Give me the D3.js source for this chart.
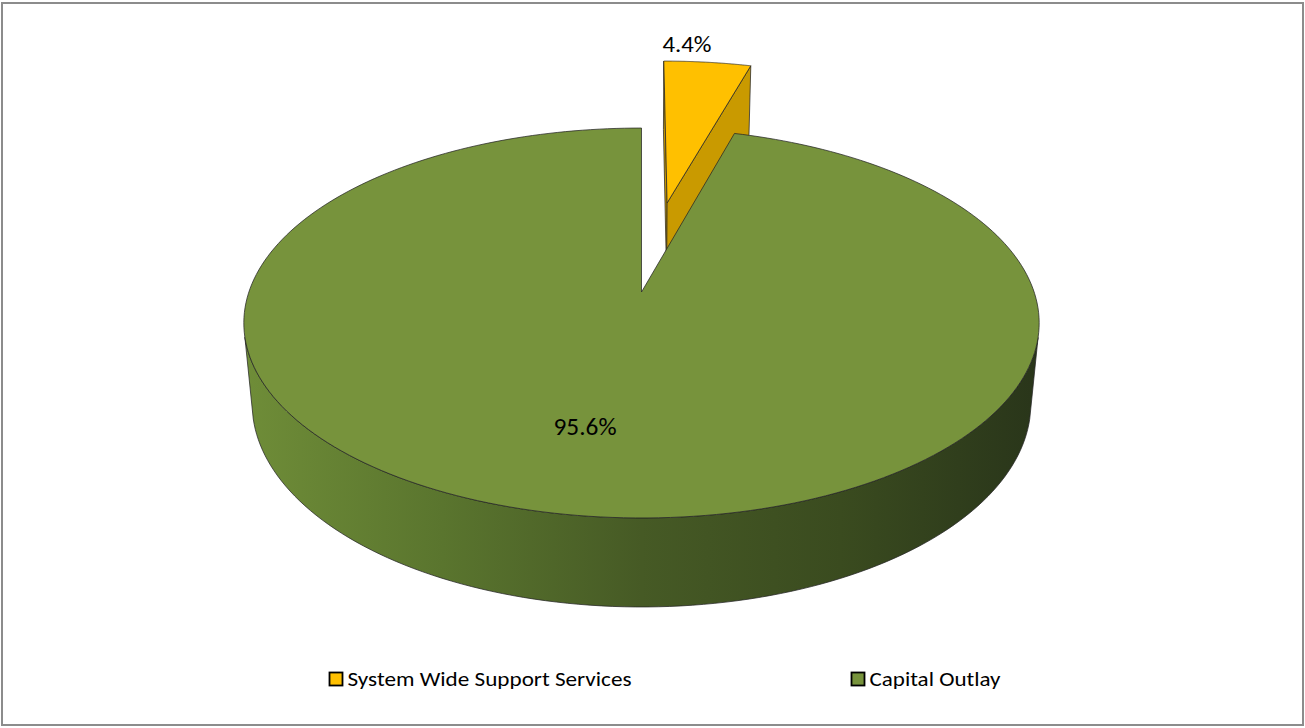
<!DOCTYPE html>
<html><head><meta charset="utf-8">
<script src="https://cdn.jsdelivr.net/npm/d3@7"></script>
<style>body{margin:0;background:#fff}svg{display:block}</style>
</head><body>
<svg id="chart" width="1305" height="728"></svg>
<script>
const categories = ["System Wide Support Services", "Capital Outlay"];
const values = [4.4, 95.6];
const labels = ["4.4%", "95.6%"];
const colors = ["#FFC000", "#77933C"];
const sideColors = ["#C99A00", "#4F6628"];
const explode = [0.511, 0];

const svg = d3.select("#chart");

// frame
svg.append("rect").attr("x", 2).attr("y", 3).attr("width", 1301).attr("height", 722)
  .attr("fill", "#fff").attr("stroke", "#8c8c8c").attr("stroke-width", 2);

// 3D projection
const cx = 641.5, cy = 292, F = 2161, Dist = 5.504;
const sn = 0.484, cs = Math.sqrt(1 - sn * sn);
const depth = 0.237;
function proj(X, Y, Z) {
  const Yc = Y * cs + Z * sn, Zc = Z * cs - Y * sn, k = F / (Dist + Zc);
  return [cx + X * k, cy - Yc * k];
}
const cam = [0, Dist * sn, -Dist * cs];

const pie = d3.pie().sort(null).value(d => d);
const arcs = pie(values);

const defs = svg.append("defs");
const g1 = defs.append("linearGradient").attr("id", "wallG").attr("gradientUnits", "userSpaceOnUse")
  .attr("x1", 243).attr("x2", 1040).attr("y1", 0).attr("y2", 0);
[[0, "#6f8d38"], [0.25, "#5a752e"], [0.5, "#465a25"], [0.75, "#3a4b1f"], [1, "#29351a"]].forEach(s =>
  g1.append("stop").attr("offset", s[0]).attr("stop-color", s[1]));
const g2 = defs.append("linearGradient").attr("id", "wallY").attr("gradientUnits", "userSpaceOnUse")
  .attr("x1", 243).attr("x2", 1040).attr("y1", 0).attr("y2", 0);
[[0, "#e0a800"], [1, "#8a6800"]].forEach(s => g2.append("stop").attr("offset", s[0]).attr("stop-color", s[1]));
const wallFill = ["url(#wallY)", "url(#wallG)"];

const line = d3.line();
const edge = { stroke: "#262626", "stroke-opacity": 0.75, "stroke-width": 1, "stroke-linejoin": "round" };
function poly(g, pts, fill) {
  const p = g.append("path").attr("d", line(pts) + "Z").attr("fill", fill);
  Object.entries(edge).forEach(([k, v]) => p.attr(k, v));
  return p;
}

const slices = arcs.map((a, i) => {
  const mid = (a.startAngle + a.endAngle) / 2;
  return { a, i, ox: Math.sin(mid) * explode[i], oz: Math.cos(mid) * explode[i] };
});
slices.sort((p, q) => q.oz - p.oz);

const layer = svg.append("g");
slices.forEach(s => {
  const { a, i, ox, oz } = s;
  const g = layer.append("g");
  const P = (ang, r, y) => proj(ox + r * Math.sin(ang), y, oz + r * Math.cos(ang));
  [[a.startAngle, -1], [a.endAngle, 1]].forEach(([ang, sgn]) => {
    const nx = sgn * Math.cos(ang), nz = -sgn * Math.sin(ang);
    const dx = cam[0] - ox, dz = cam[2] - oz;
    if (dx * nx + dz * nz > 0.01) {
      poly(g, [P(ang, 0, 0), P(ang, 1, 0), P(ang, 1, -depth), P(ang, 0, -depth)], sideColors[i]);
    }
  });
  const N = 240, vis = [];
  for (let k = 0; k <= N; k++) {
    const ang = a.startAngle + (a.endAngle - a.startAngle) * k / N;
    const px = ox + Math.sin(ang), pz = oz + Math.cos(ang);
    const d = (cam[0] - px) * Math.sin(ang) + (cam[2] - pz) * Math.cos(ang);
    if (d > 0) vis.push(ang);
  }
  if (vis.length > 1) {
    const top = vis.map(t => P(t, 1, 0));
    const bot = vis.slice().reverse().map(t => P(t, 1, -depth));
    poly(g, top.concat(bot), wallFill[i]);
  }
  const pts = [P(0, 0, 0)];
  for (let k = 0; k <= N; k++) {
    const ang = a.startAngle + (a.endAngle - a.startAngle) * k / N;
    pts.push(P(ang, 1, 0));
  }
  poly(g, pts, colors[i]);
});

// labels
const fontFam = "Carlito, Calibri, Lato, sans-serif";
function txt(x, y, size, len, anchor, s) {
  return svg.append("text").attr("x", x).attr("y", y).attr("text-anchor", anchor)
    .attr("font-family", fontFam).attr("font-size", size).attr("fill", "#000")
    .attr("textLength", len).attr("lengthAdjust", "spacingAndGlyphs").text(s);
}
txt(687, 51.7, 22.5, 49, "middle", labels[0]);
txt(585, 434.5, 23.5, 63, "middle", labels[1]);

// legend
const legX = [329.5, 851.5];
const legLen = [284, 131];
categories.forEach((c, i) => {
  svg.append("rect").attr("x", legX[i]).attr("y", 672.5).attr("width", 13).attr("height", 13)
    .attr("fill", colors[i]).attr("stroke", "#000").attr("stroke-width", 1.8);
  txt(legX[i] + 18, 686, 19.5, legLen[i], "start", c);
});
</script>
</body></html>
